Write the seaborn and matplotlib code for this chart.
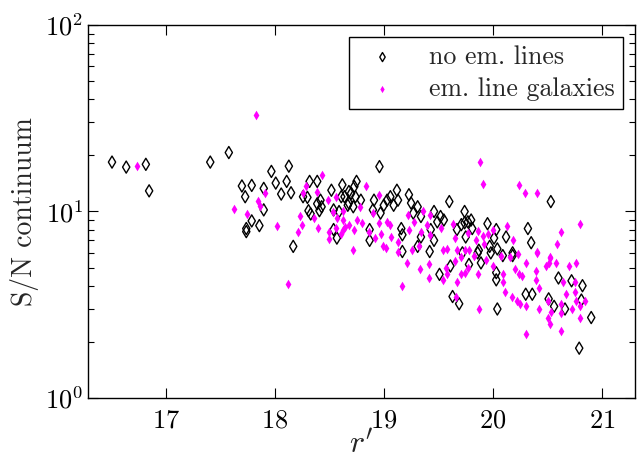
import matplotlib
matplotlib.use("Agg")
import matplotlib.pyplot as plt
import seaborn as sns
from matplotlib.ticker import LogLocator, FixedLocator, NullLocator

# r' magnitude and S/N continuum for galaxies without emission lines
noem_r = [16.51, 16.64, 16.82, 16.85, 17.41, 17.58, 17.70, 17.79, 17.73, 17.90,
          17.90, 17.97, 18.01, 18.06, 18.11, 18.13, 18.15, 17.79, 17.74, 17.86,
          17.74, 18.17, 18.30, 18.31, 18.32, 18.39, 18.39, 18.26, 18.33, 18.42,
          18.43, 18.41, 18.52, 18.54, 18.61, 18.59, 18.68, 18.68, 18.54, 18.57,
          18.96, 18.62, 18.75, 18.73, 18.70, 18.74, 18.64, 18.67, 18.79, 18.72,
          18.91, 18.90, 18.97, 19.00, 19.03, 19.06, 19.12, 19.09, 19.13, 19.23,
          19.25, 19.31, 19.27, 19.16, 19.17, 18.87, 18.87, 19.46, 19.52, 19.49,
          19.43, 19.34, 19.31, 19.46, 19.60, 19.67, 19.71, 19.77, 19.75, 19.55,
          19.34, 19.17, 19.42, 19.51, 19.61, 19.63, 19.69, 19.78, 19.72, 20.53,
          20.32, 20.35, 19.74, 19.74, 19.80, 19.81, 19.95, 20.03, 20.12, 20.01,
          20.04, 19.97, 19.87, 20.18, 20.04, 20.30, 20.36, 20.51, 20.56, 20.66,
          20.60, 20.72, 20.82, 20.81, 20.90, 20.79, 20.03, 20.03, 19.89, 19.86,
          19.98, 20.09, 20.18]
noem_sn = [18.4, 17.3, 17.9, 12.9, 18.4, 20.7, 13.7, 13.8, 12.0, 13.3,
           10.2, 16.4, 14.2, 12.4, 14.5, 17.5, 12.6, 8.9, 8.1, 8.4,
           7.8, 6.5, 11.9, 10.1, 14.5, 14.5, 11.0, 12.0, 9.7, 11.5,
           10.6, 10.1, 13.0, 10.2, 12.0, 9.99, 12.8, 11.1, 8.0, 7.2,
           17.4, 13.9, 14.5, 13.6, 12.5, 12.0, 12.0, 10.8, 11.5, 10.6,
           11.5, 10.2, 9.8, 10.8, 11.5, 12.0, 13.0, 10.8, 11.5, 12.3,
           11.1, 10.6, 9.8, 8.1, 7.5, 8.0, 7.0, 10.0, 9.4, 8.8,
           8.0, 7.3, 6.5, 7.0, 11.3, 8.0, 8.5, 8.8, 7.3, 9.0,
           9.4, 6.1, 6.1, 4.6, 5.1, 3.5, 3.2, 5.2, 6.0, 11.3,
           8.1, 6.8, 10.0, 8.7, 9.0, 8.1, 8.6, 8.0, 7.3, 7.2,
           6.3, 6.5, 6.2, 6.0, 3.0, 3.6, 3.6, 3.4, 3.1, 3.0,
           4.4, 4.25, 4.0, 3.35, 2.7, 1.85, 4.7, 4.3, 5.3, 6.0,
           6.0, 5.8, 5.8]

# r' magnitude and S/N continuum for emission-line galaxies
em_r = [16.74, 17.83, 17.63, 17.75, 17.85, 17.87, 17.91, 18.02, 18.23, 18.25,
        18.26, 18.29, 18.36, 18.39, 18.12, 18.21, 18.43, 18.40, 18.49, 18.53,
        18.56, 18.57, 18.63, 18.63, 18.64, 18.68, 18.50, 18.50, 18.56, 18.63,
        18.84, 18.96, 18.78, 18.90, 18.75, 18.80, 18.73, 18.86, 18.92, 18.97,
        18.96, 19.03, 19.06, 19.07, 19.13, 18.99, 19.02, 19.13, 18.72, 19.22,
        19.23, 19.28, 19.34, 19.36, 19.42, 19.40, 19.42, 19.32, 19.26, 19.52,
        19.54, 19.58, 19.63, 19.65, 19.67, 19.74, 18.61, 19.21, 19.33, 19.41,
        19.41, 19.17, 19.54, 19.58, 19.57, 19.65, 19.67, 19.71, 19.74, 19.66,
        19.71, 19.88, 19.91, 20.24, 20.29, 20.40, 20.80, 20.62, 20.59, 20.13,
        20.18, 20.40, 20.52, 20.00, 19.86, 19.77, 19.91, 19.84, 19.95, 19.92,
        19.78, 20.07, 20.16, 20.23, 19.87, 20.30, 20.62, 20.11, 20.17, 20.22,
        20.25, 20.30, 20.42, 20.50, 20.50, 20.52, 20.53, 20.62, 20.62, 20.67,
        20.72, 20.76, 20.80, 20.84, 20.80, 20.75, 20.75, 20.70, 20.76, 20.64,
        20.58, 20.51, 20.49, 20.52, 20.39, 20.39, 20.42, 20.30, 20.40, 20.27,
        20.24, 20.20, 20.09, 20.09, 20.00, 19.94, 19.86, 19.77, 19.83]
em_sn = [17.5, 32.9, 10.3, 9.7, 11.4, 10.7, 12.6, 8.4, 9.4, 8.5,
         12.5, 13.7, 9.2, 12.7, 4.1, 7.8, 15.6, 8.2, 11.5, 9.9,
         12.0, 9.2, 10.0, 9.0, 8.3, 8.5, 7.8, 7.1, 8.2, 8.0,
         13.7, 12.3, 10.6, 9.8, 9.0, 8.7, 8.0, 7.8, 7.2, 7.6,
         8.7, 8.8, 8.5, 7.3, 6.9, 6.5, 6.4, 6.1, 6.2, 9.6,
         8.0, 8.8, 7.8, 10.0, 9.6, 8.5, 7.5, 6.5, 6.2, 8.2,
         6.2, 6.3, 8.6, 7.2, 6.2, 6.2, 7.6, 5.3, 4.9, 5.2,
         4.4, 4.0, 4.3, 4.6, 5.0, 5.4, 4.2, 4.6, 4.7, 3.5,
         5.7, 18.4, 14.1, 13.9, 12.5, 12.6, 8.6, 7.8, 6.7, 8.4,
         7.0, 6.0, 5.7, 8.0, 7.9, 7.7, 7.4, 7.0, 7.6, 6.7,
         6.2, 5.8, 5.7, 5.9, 3.0, 2.2, 2.3, 3.7, 3.5, 3.3,
         3.2, 3.1, 3.0, 3.3, 2.7, 2.5, 2.9, 3.2, 2.85, 3.6,
         3.0, 3.3, 3.1, 3.3, 2.7, 3.7, 4.2, 5.1, 5.3, 4.2,
         5.3, 5.3, 5.1, 5.6, 4.8, 4.3, 3.9, 5.3, 6.1, 4.5,
         4.6, 4.9, 4.6, 4.2, 5.1, 5.5, 4.6, 5.0, 5.8]

xticks = [17, 18, 19, 20, 21]
labels = ["no em. lines", "em. line galaxies"]

sns.set_style("white")
plt.rcParams["font.family"] = ["cmr10", "DejaVu Serif"]
plt.rcParams["mathtext.fontset"] = "cm"
plt.rcParams["axes.formatter.use_mathtext"] = True

fig = plt.figure(figsize=(6.4, 4.55), dpi=100)
ax = fig.add_axes([0.1375, 0.1253, 0.8545, 0.8198])

sns.scatterplot(x=noem_r, y=noem_sn, marker="d", s=38, facecolors="none",
                edgecolors="black", linewidths=1.0, label=labels[0], ax=ax)
sns.scatterplot(x=em_r, y=em_sn, marker="d", s=24, color="#ff00ff",
                edgecolors="#ff00ff", linewidths=0, label=labels[1], ax=ax)

ax.set_yscale("log")
ax.set_xlim(16.29, 21.3)
ax.set_ylim(1, 100)
ax.xaxis.set_major_locator(FixedLocator(xticks))
ax.xaxis.set_minor_locator(NullLocator())
ax.yaxis.set_major_locator(LogLocator(base=10, numticks=5))
ax.yaxis.set_minor_locator(LogLocator(base=10, subs=range(2, 10), numticks=20))

ax.tick_params(which="both", direction="in", top=True, right=True,
               bottom=True, left=True, colors="black", labelsize=19)
ax.tick_params(which="major", length=7, width=0.8)
ax.tick_params(which="minor", length=4, width=0.8)
ax.tick_params(axis="x", pad=8)
for sp in ax.spines.values():
    sp.set_color("black")
    sp.set_linewidth(1.0)

ax.set_xlabel(r"$r'$", fontsize=23, labelpad=-2)
ax.set_ylabel("S/N continuum", fontsize=20, labelpad=4)

leg = ax.legend(loc="upper right", fontsize=18.6, frameon=True, fancybox=False,
                edgecolor="black", framealpha=1, handlelength=1.9,
                handletextpad=0.85, borderpad=0.33, labelspacing=0.32,
                borderaxespad=0.45, markerscale=0.75)
leg.get_frame().set_linewidth(1.0)

fig.savefig("out.png", dpi=100)
